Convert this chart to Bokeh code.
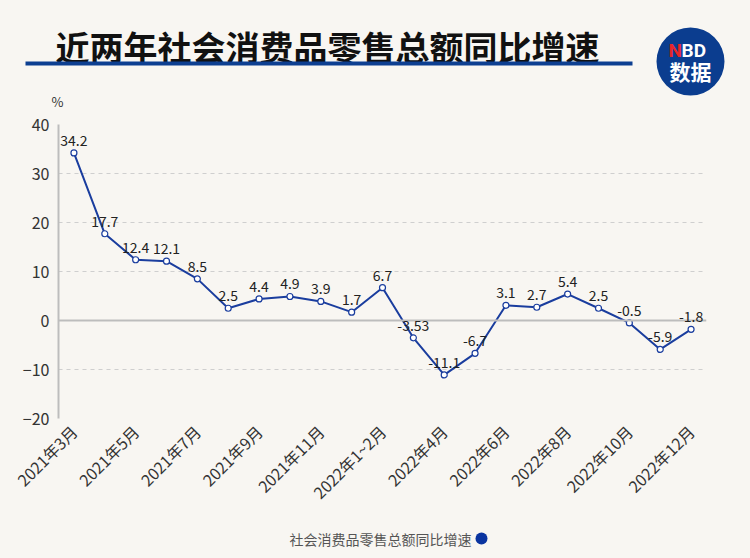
import math
from bokeh.plotting import figure
from bokeh.layouts import column
from bokeh.models import ColumnDataSource, Range1d, FixedTicker, LabelSet, Span
from bokeh.core.properties import value
from bokeh.embed import file_html
from bokeh.resources import INLINE

# ---- data ----
months = ["2021年3月", "2021年4月", "2021年5月", "2021年6月", "2021年7月", "2021年8月",
          "2021年9月", "2021年10月", "2021年11月", "2021年12月", "2022年1~2月",
          "2022年3月", "2022年4月", "2022年5月", "2022年6月", "2022年7月",
          "2022年8月", "2022年9月", "2022年10月", "2022年11月", "2022年12月"]
growth = [34.2, 17.7, 12.4, 12.1, 8.5, 2.5, 4.4, 4.9, 3.9, 1.7, 6.7,
          -3.53, -11.1, -6.7, 3.1, 2.7, 5.4, 2.5, -0.5, -5.9, -1.8]
labels = ["34.2", "17.7", "12.4", "12.1", "8.5", "2.5", "4.4", "4.9", "3.9", "1.7", "6.7",
          "-3.53", "-11.1", "-6.7", "3.1", "2.7", "5.4", "2.5", "-0.5", "-5.9", "-1.8"]
y_ticks = [-20, -10, 0, 10, 20, 30, 40]

title_text = "近两年社会消费品零售总额同比增速"
series_name = "社会消费品零售总额同比增速"
unit_text = "%"

FONT = "Noto Sans CJK SC"
BG = "#f8f6f2"
LINE = "#1a3d9e"

W = 750
HEAD_H, MAIN_H, FOOT_H = 110, 406, 42
FL, FR, FT, FB = 58, 706, 124, 418  # frame edges in page px
Y_MIN, Y_MAX = -20, 40
N = len(months)


def blank(height, y0, y1):
    f = figure(width=W, height=height, output_backend="svg", toolbar_location=None,
               x_range=Range1d(0, W), y_range=Range1d(y1, y0), min_border=0,
               frame_align=False)
    f.axis.visible = False
    f.grid.grid_line_color = None
    f.outline_line_color = None
    f.background_fill_color = BG
    f.border_fill_color = BG
    return f


# ---- header: title, underline, logo, unit ----
head = blank(HEAD_H, 0, HEAD_H)
head.text(x=[55], y=[46], text=[title_text], text_font=value(FONT),
          text_font_style="bold", text_font_size="34px", text_color="#111111",
          text_baseline="middle", text_align="left")
head.quad(left=[25], right=[632], top=[61], bottom=[65], fill_color="#0d3f91",
          line_color=None)
head.circle(x=[690], y=[61], radius=34, fill_color="#0b3d8f", line_color=None)
head.text(x=[668], y=[50], text=["N"], text_font=value("Roboto"),
          text_font_style="bold", text_font_size="19px", text_color="#e8262a",
          text_baseline="middle", text_align="left")
head.text(x=[681], y=[50], text=["BD"], text_font=value("Roboto"),
          text_font_style="bold", text_font_size="19px", text_color="white",
          text_baseline="middle", text_align="left")
head.text(x=[690], y=[70], text=["数据"], text_font=value(FONT),
          text_font_style="bold", text_font_size="21px", text_color="white",
          text_baseline="middle", text_align="center")
head.text(x=[57], y=[101], text=[unit_text], text_font=value(FONT),
          text_font_size="13px", text_color="#333333",
          text_baseline="middle", text_align="center")

# ---- main chart ----
src = ColumnDataSource(dict(x=list(range(N)), y=growth, t=labels))

p = figure(width=W, height=MAIN_H, output_backend="svg", toolbar_location=None,
           x_range=Range1d(-0.5, N - 0.5), y_range=Range1d(Y_MIN, Y_MAX),
           min_border_left=FL, min_border_right=W - FR,
           min_border_top=FT - HEAD_H, min_border_bottom=HEAD_H + MAIN_H - FB,
           frame_align=False)
p.background_fill_color = BG
p.border_fill_color = BG
p.outline_line_color = None

p.yaxis.ticker = FixedTicker(ticks=y_ticks)
p.yaxis.axis_line_color = "#bdbdbd"
p.yaxis.axis_line_width = 2
p.yaxis.major_tick_line_color = None
p.yaxis.minor_tick_line_color = None
p.yaxis.major_label_text_font = FONT
p.yaxis.major_label_text_font_size = "16px"
p.yaxis.major_label_text_color = "#333333"
p.yaxis.major_label_standoff = 3

p.xaxis.ticker = FixedTicker(ticks=list(range(0, N, 2)))
p.xaxis.major_label_overrides = {i: months[i] for i in range(0, N, 2)}
p.xaxis.axis_line_color = None
p.xaxis.major_tick_line_color = None
p.xaxis.minor_tick_line_color = None
p.xaxis.major_label_orientation = math.pi / 4
p.xaxis.major_label_text_font = FONT
p.xaxis.major_label_text_font_size = "16px"
p.xaxis.major_label_text_color = "#333333"
p.xaxis.major_label_standoff = 4

p.xgrid.grid_line_color = None
p.ygrid.grid_line_color = "#cfcfcf"
p.ygrid.grid_line_dash = "4 4"
p.ygrid.grid_line_width = 1

p.add_layout(Span(location=0, dimension="width", line_color="#bdbdbd", line_width=2))

p.line("x", "y", source=src, line_color=LINE, line_width=2)
p.scatter("x", "y", source=src, size=6, marker="circle", fill_color="white",
          line_color=LINE, line_width=1.2)

p.add_layout(LabelSet(x="x", y="y", text="t", source=src, y_offset=7,
                      text_align="center", text_baseline="bottom",
                      text_font=value(FONT), text_font_size="14px",
                      text_color="#222222"))

# ---- footer: legend ----
F0 = HEAD_H + MAIN_H
foot = blank(FOOT_H, F0, F0 + FOOT_H)
foot.text(x=[471], y=[538], text=[series_name], text_font=value(FONT),
          text_font_size="14px", text_color="#555555",
          text_baseline="middle", text_align="right")
foot.circle(x=[481], y=[538], radius=6, fill_color="#0a34a0", line_color=None)

layout = column(head, p, foot, spacing=0, styles={"background-color": BG})
open("out.html", "w").write(file_html(layout, INLINE))
